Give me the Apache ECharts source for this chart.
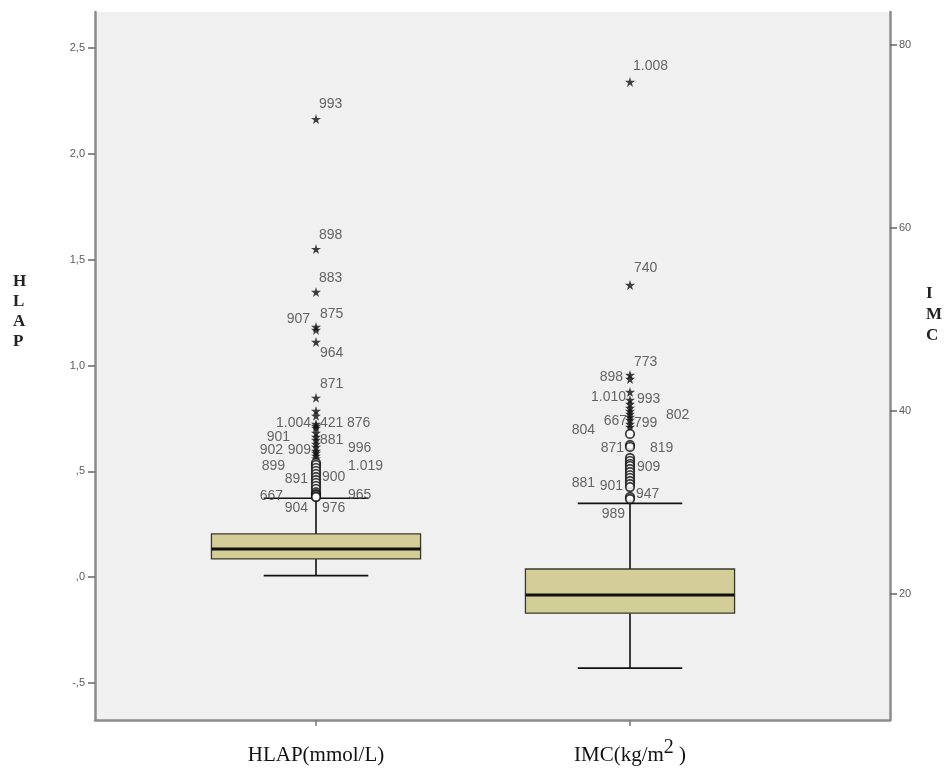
<!DOCTYPE html>
<html>
<head>
<meta charset="utf-8">
<script src="https://cdn.jsdelivr.net/npm/echarts@6/dist/echarts.min.js"></script>
<style>
html,body{margin:0;padding:0;background:#fff;}
#chart{width:950px;height:773px;}
</style>
</head>
<body>
<div id="chart"></div>
<script>
// ---------------- data ----------------
const categories = ['HLAP(mmol/L)', 'IMC(kg/m2)'];
// [low whisker, Q1, median, Q3, high whisker]
const hlapBox = [0.007, 0.086, 0.133, 0.204, 0.373];
const imcBox = [11.9, 17.9, 19.9, 22.73, 29.9];

const leftTicks = [-0.5, 0, 0.5, 1.0, 1.5, 2.0, 2.5];
const rightTicks = [20, 40, 60, 80];

const hlapOutIds = ['993','898','883','875','907','964','871','','','1.004','421','876','901','','881','','996','902','909','','','1.019','899','','','','900','891','','','','','965','667','904','976'];
const hlapOutValues = [2.164,1.550,1.347,1.182,1.168,1.111,0.847,0.785,0.762,0.724,0.714,0.705,0.681,0.662,0.648,0.629,0.615,0.596,0.587,0.573,0.560,0.540,0.530,0.516,0.502,0.488,0.473,0.459,0.445,0.431,0.417,0.402,0.393,0.388,0.379,0.379];
const hlapOutKinds = ['S','S','S','S','S','S','S','S','S','S','S','S','S','S','S','S','S','S','S','S','S','O','O','O','O','O','O','O','O','O','O','O','O','O','O','O'];

const imcOutIds = ['1.008','740','773','898','1.010','993','','802','','667','799','','804','','','819','871','','','','909','','','','','','881','901','947','989'];
const imcOutValues = [75.96,53.77,43.93,43.50,42.08,41.20,40.77,40.33,40.00,39.67,39.34,39.02,38.58,38.25,37.49,36.28,36.07,34.86,34.54,34.21,33.99,33.66,33.33,33.00,32.68,32.35,32.02,31.69,30.60,30.38];
const imcOutKinds = ['S','S','S','S','S','S','S','S','S','S','S','S','S','S','O','O','O','O','O','O','O','O','O','O','O','O','O','O','O','O'];

// ---------------- label placement (layout only) ----------------
const hlapLabelOffsets = [[3,-15],[3,-14],[3,-14],[4,-13],[-6,-11],[4,11],[4,-14],null,null,[-5,-1],[4,-3],[31,-5],[-26,4],null,[4,0],null,[32,1],[-33,-1],[-5,-3],null,null,[32,3],[-31,1],null,null,null,[6,0],[-8,-1],null,null,null,null,[32,1],[-33,1],[-8,11],[6,11]];
const imcLabelOffsets = [[3,-16],[4,-17],[4,-13],[-7,-2],[-4,5],[7,-1],null,[36,7],null,[-3,7],[4,6],null,[-35,6],null,null,[20,3],[-6,1],null,null,null,[7,1],null,null,null,null,null,[-35,-1],[-7,-1],[6,-3],[-5,15]];

// ---------------- chart ----------------
const STAR = 'path://M50,0 L61,35 L98,35 L68,57 L79,91 L50,70 L21,91 L32,57 L2,35 L39,35 Z';
const leftMin = -0.675, leftMax = 2.67;
const rightMin = 6.23, rightMax = 83.6;

function fmtLeft(v) {
  let s = Number(v).toFixed(1).replace('.', ',');
  s = s.replace(/^(-?)0,/, '$1,');
  return s;
}

function renderBox(params, api) {
  const x = api.value(0);
  const lo = api.coord([x, api.value(1)]);
  const q1 = api.coord([x, api.value(2)]);
  const med = api.coord([x, api.value(3)]);
  const q3 = api.coord([x, api.value(4)]);
  const hi = api.coord([x, api.value(5)]);
  const band = api.size([1, 0])[0];
  const bw = band * 0.666;
  const cw = bw / 2;
  const cx = lo[0];
  const wStyle = {stroke: '#111', lineWidth: 1.6};
  return {
    type: 'group',
    children: [
      {type: 'line', shape: {x1: cx, y1: hi[1], x2: cx, y2: q3[1]}, style: wStyle},
      {type: 'line', shape: {x1: cx, y1: lo[1], x2: cx, y2: q1[1]}, style: wStyle},
      {type: 'line', shape: {x1: cx - cw / 2, y1: hi[1], x2: cx + cw / 2, y2: hi[1]}, style: wStyle},
      {type: 'line', shape: {x1: cx - cw / 2, y1: lo[1], x2: cx + cw / 2, y2: lo[1]}, style: wStyle},
      {type: 'rect', shape: {x: cx - bw / 2, y: q3[1], width: bw, height: q1[1] - q3[1]},
        style: {fill: '#d3ce97', stroke: '#3a3a2a', lineWidth: 1.3}},
      {type: 'line', shape: {x1: cx - bw / 2, y1: med[1], x2: cx + bw / 2, y2: med[1]},
        style: {stroke: '#111', lineWidth: 3}}
    ]
  };
}

function outlierData(catIndex, ids, values, kinds, offsets) {
  return values.map((v, i) => {
    const star = kinds[i] === 'S';
    const item = {
      value: [catIndex, v],
      name: ids[i],
      symbol: star ? STAR : 'circle',
      symbolSize: star ? 10 : 8.5,
      itemStyle: star ? {color: '#111', borderWidth: 0} : {color: '#fff', borderColor: '#111', borderWidth: 1.8}
    };
    const off = offsets[i];
    if (ids[i] && off) {
      item.label = {
        show: true,
        formatter: ids[i],
        position: 'inside',
        align: off[0] >= 0 ? 'left' : 'right',
        verticalAlign: 'middle',
        offset: [off[0], off[1]],
        fontFamily: 'Liberation Sans, Arial, sans-serif',
        fontSize: 14,
        color: '#404040'
      };
    } else {
      item.label = {show: false};
    }
    return item;
  });
}

const chart = echarts.init(document.getElementById('chart'), null, {renderer: 'canvas'});

const option = {
  animation: false,
  backgroundColor: '#ffffff',
  grid: [
    {left: 95, right: 60, top: 12, bottom: 53, show: true, backgroundColor: '#f0f0f0', borderWidth: 0},
    {left: 159, width: 628, top: 12, bottom: 53, show: false}
  ],
  xAxis: [
    {gridIndex: 0, type: 'value', min: 0, max: 1, position: 'bottom',
      axisLine: {show: true, onZero: false, lineStyle: {color: '#8c8c8c', width: 2.5}},
      axisTick: {show: false}, axisLabel: {show: false}, splitLine: {show: false}},
    {gridIndex: 1, type: 'category', data: categories, position: 'bottom',
      axisLine: {show: false, onZero: false},
      axisTick: {show: true, alignWithLabel: true, length: 6, lineStyle: {color: '#777', width: 1.5}},
      axisLabel: {
        margin: 19,
        formatter: function (v) {
          if (v === 'IMC(kg/m2)') return '{a|IMC(kg/m}{s|2}{a| )}';
          return '{a|' + v + '}';
        },
        rich: {
          a: {fontFamily: 'Liberation Serif, Times New Roman, serif', fontSize: 21, color: '#111', verticalAlign: 'bottom', lineHeight: 27},
          s: {fontFamily: 'Liberation Serif, Times New Roman, serif', fontSize: 20, color: '#111', verticalAlign: 'bottom', lineHeight: 27, padding: [0, 0, 8, 0]}
        }
      },
      splitLine: {show: false}}
  ],
  yAxis: [
    {gridIndex: 0, type: 'value', position: 'left', min: leftMin, max: leftMax,
      axisLine: {show: true, onZero: false, lineStyle: {color: '#8c8c8c', width: 2.5}},
      axisTick: {show: true, customValues: leftTicks, length: 7, lineStyle: {color: '#666', width: 1.5}},
      axisLabel: {show: true, customValues: leftTicks, formatter: fmtLeft, margin: 10,
        fontFamily: 'Liberation Sans, Arial, sans-serif', fontSize: 11, color: '#5a5a5a'},
      splitLine: {show: false}},
    {gridIndex: 0, type: 'value', position: 'right', min: rightMin, max: rightMax,
      axisLine: {show: true, onZero: false, lineStyle: {color: '#8c8c8c', width: 2.5}},
      axisTick: {show: true, customValues: rightTicks, length: 7, lineStyle: {color: '#666', width: 1.5}},
      axisLabel: {show: true, customValues: rightTicks, margin: 9,
        fontFamily: 'Liberation Sans, Arial, sans-serif', fontSize: 11, color: '#5a5a5a'},
      splitLine: {show: false}},
    {gridIndex: 1, type: 'value', min: leftMin, max: leftMax, show: false,
      axisLine: {onZero: false}, splitLine: {show: false}},
    {gridIndex: 1, type: 'value', min: rightMin, max: rightMax, show: false,
      axisLine: {onZero: false}, splitLine: {show: false}}
  ],
  graphic: [
    {type: 'text', left: 13, top: 272, style: {text: 'H\nL\nA\nP', fontFamily: 'Liberation Serif, Times New Roman, serif',
      fontWeight: 'bold', fontSize: 17, lineHeight: 20, fill: '#222', align: 'center'}},
    {type: 'text', left: 926, top: 283, style: {text: 'I\nM\nC', fontFamily: 'Liberation Serif, Times New Roman, serif',
      fontWeight: 'bold', fontSize: 17, lineHeight: 21, fill: '#222', align: 'center'}}
  ],
  series: [
    {type: 'custom', name: 'HLAP box', xAxisIndex: 1, yAxisIndex: 2, renderItem: renderBox,
      encode: {x: 0, y: [1, 2, 3, 4, 5]}, data: [[0].concat(hlapBox)], z: 2, silent: true},
    {type: 'custom', name: 'IMC box', xAxisIndex: 1, yAxisIndex: 3, renderItem: renderBox,
      encode: {x: 0, y: [1, 2, 3, 4, 5]}, data: [[1].concat(imcBox)], z: 2, silent: true},
    {type: 'scatter', name: 'HLAP outliers', xAxisIndex: 1, yAxisIndex: 2, z: 3, silent: true,
      data: outlierData(0, hlapOutIds, hlapOutValues, hlapOutKinds, hlapLabelOffsets)},
    {type: 'scatter', name: 'IMC outliers', xAxisIndex: 1, yAxisIndex: 3, z: 3, silent: true,
      data: outlierData(1, imcOutIds, imcOutValues, imcOutKinds, imcLabelOffsets)}
  ]
};
chart.setOption(option);
</script>
</body>
</html>
